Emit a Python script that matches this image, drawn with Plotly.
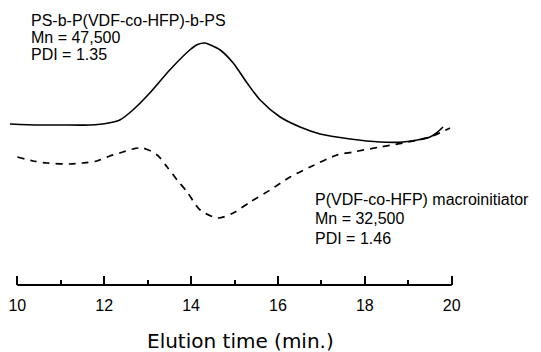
import plotly.graph_objects as go

# Elution time (min) and detector response (arbitrary units)
t_block = [9.83, 10.5, 11.0, 11.67, 12.1, 12.36, 12.66, 13.05, 13.51, 13.97, 14.15, 14.32, 14.45,
           14.67, 14.97, 15.29, 15.59, 16.05, 16.51, 16.97, 17.66, 18.35, 18.88, 19.5, 19.65, 19.8]
s_block = [176, 175, 175, 175, 177, 180, 190, 207, 230, 250, 255.5, 257, 255,
           250, 237, 217, 200, 183, 173, 166, 161, 158, 158, 163, 167, 173]

t_macro = [10.0, 10.36, 10.68, 11.21, 11.51, 11.83, 12.13, 12.36, 12.66, 12.89, 13.22, 13.45, 13.68,
           13.91, 14.21, 14.62, 14.97, 15.36, 15.82, 16.28, 16.74, 17.36, 17.73, 18.35, 18.88, 19.5, 19.96]
s_macro = [143, 139, 137, 136, 137, 139, 144, 147, 151, 152, 145, 133, 120,
           108, 90, 82, 87, 98, 110, 123, 133, 145, 148, 153, 157, 163, 172]

major_ticks = [10, 12, 14, 16, 18, 20]
major_labels = ["10", "12", "14", "16", "18", "20"]
minor_ticks = [11, 13, 15, 17, 19]

label_block = ["PS-b-P(VDF-co-HFP)-b-PS", "Mn = 47,500", "PDI = 1.35"]
label_macro = ["P(VDF-co-HFP) macroinitiator", "Mn = 32,500", "PDI = 1.46"]
x_title = "Elution time (min.)"

W, H = 541, 352
PLOT_H = 285
FONT = "Arial, Liberation Sans, sans-serif"

fig = go.Figure()
fig.add_trace(go.Scatter(x=t_block, y=s_block, mode="lines",
                         line=dict(color="black", width=1.6, shape="spline", smoothing=0.8),
                         hoverinfo="skip", showlegend=False))
fig.add_trace(go.Scatter(x=t_macro, y=s_macro, mode="lines",
                         line=dict(color="black", width=1.7, dash="7px,6px", shape="spline", smoothing=0.8),
                         hoverinfo="skip", showlegend=False))

# axis line from 10 to 20
fig.add_shape(type="line", xref="x", yref="paper", x0=major_ticks[0], x1=major_ticks[-1], y0=0, y1=0,
              line=dict(color="black", width=2))

def py(p):
    return 1 - p / PLOT_H

annos = []
for i, txt in enumerate(label_block):
    annos.append(dict(text=txt, x=29 / W, y=py(20 + 17.5 * i), xref="paper", yref="paper",
                      xanchor="left", yanchor="middle", showarrow=False,
                      font=dict(family=FONT, size=16, color="black")))
for i, txt in enumerate(label_macro):
    annos.append(dict(text=txt, x=313 / W, y=py(199 + 19.5 * i), xref="paper", yref="paper",
                      xanchor="left", yanchor="middle", showarrow=False,
                      font=dict(family=FONT, size=16, color="black")))
annos.append(dict(text=x_title, x=240 / W, y=py(341), xref="paper", yref="paper",
                  xanchor="center", yanchor="middle", showarrow=False,
                  font=dict(family="DejaVu Sans, sans-serif", size=20, color="black")))

x0 = 10 - 17.3 / 43.44
x1 = 10 + (W - 17.3) / 43.44

fig.update_layout(
    width=W, height=H,
    margin=dict(l=0, r=0, t=0, b=H - PLOT_H, pad=0),
    paper_bgcolor="white", plot_bgcolor="white",
    annotations=annos,
    xaxis=dict(range=[x0, x1], showline=False, showgrid=False, zeroline=False,
               tickmode="array", tickvals=major_ticks, ticktext=major_labels,
               ticks="inside", ticklen=9, tickwidth=2, tickcolor="black",
               ticklabelstandoff=9,
               minor=dict(tickmode="array", tickvals=minor_ticks, ticks="inside", ticklen=5,
                          tickwidth=2, tickcolor="black", showgrid=False),
               tickfont=dict(family=FONT, size=16, color="black")),
    yaxis=dict(range=[15, 300], visible=False),
)

fig.write_html("out.html")
